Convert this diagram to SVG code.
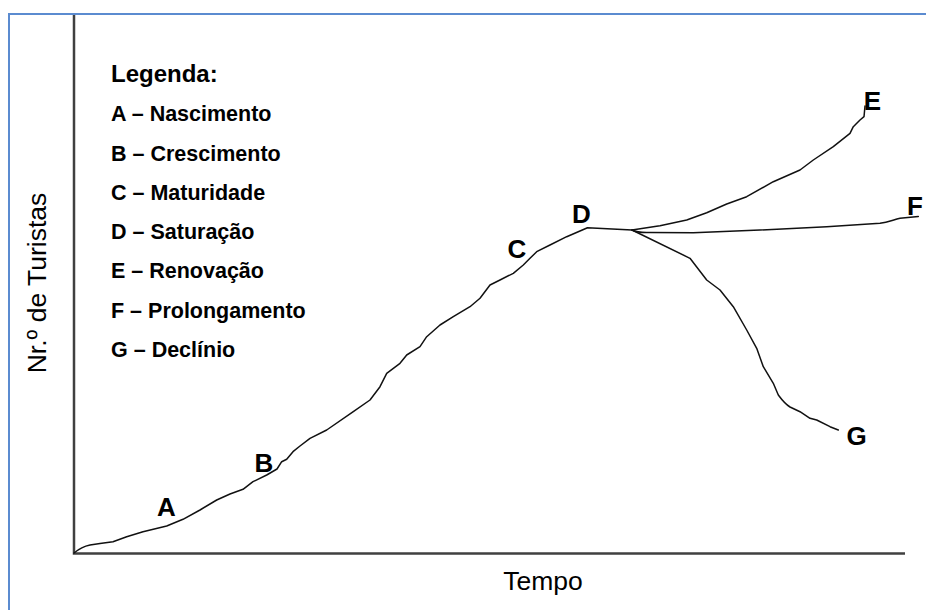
<svg xmlns="http://www.w3.org/2000/svg" width="926" height="610" viewBox="0 0 926 610">
<style>
.frame{stroke:#5B8BD0;stroke-width:2;fill:none}
.axis{stroke:#404040;stroke-width:2.5;fill:none}
.curve{stroke:#111;stroke-width:1.5;fill:none;stroke-linejoin:round;stroke-linecap:round}
.leg{font-family:"Liberation Sans",Arial,sans-serif;font-weight:bold;font-size:21.5px;fill:#000}
.legt{font-family:"Liberation Sans",Arial,sans-serif;font-weight:bold;font-size:24px;fill:#000}
.pt{font-family:"Liberation Sans",Arial,sans-serif;font-weight:bold;font-size:26px;fill:#000;text-anchor:middle}
.ax{font-family:"Liberation Sans",Arial,sans-serif;font-size:26.5px;fill:#000;text-anchor:middle}
</style>
<rect width="926" height="610" fill="#fff"/>
<g id="frame">
<path class="frame" d="M9,610 V14 H926"/>
</g>
<g id="axes">
<path class="axis" d="M74,15 V553.5 H905"/>
<text class="ax" x="543" y="590">Tempo</text>
<text class="ax" transform="translate(46,283) rotate(-90)">Nr.º de Turistas</text>
</g>
<g id="legend">
<text class="legt" x="111" y="82">Legenda:</text>
<text class="leg" x="111" y="121">A – Nascimento</text>
<text class="leg" x="111" y="161">B – Crescimento</text>
<text class="leg" x="111" y="200">C – Maturidade</text>
<text class="leg" x="111" y="239">D – Saturação</text>
<text class="leg" x="111" y="278">E – Renovação</text>
<text class="leg" x="111" y="318">F – Prolongamento</text>
<text class="leg" x="111" y="357">G – Declínio</text>
</g>
<g id="connectors">
<path id="main" class="curve" d="M74,553 C80,548 85,546 90,545 L100,543.5 L113,541.7 L126.7,536.7 L143,531.7 L166.7,526 L183,519.3 L200,510 L216.7,500 L230,494 L243,489.3 L253,481.7 L266.7,475 L277,469 L281.7,461.7 L286.7,459.3 L293,451.7 L300,446 L310,438.3 L326.7,430 L353.3,411.7 L370,400 L380,386.7 L386.7,373.3 L400,363.3 L406.7,355 L420,346.7 L426.7,336.7 L440,325 L453.3,316.7 L470,306.7 L480,298.3 L490,285 L500,280 L513.3,273.3 L523.3,265 L530,258.3 L536.7,251.7 L550,245 L566.7,236.7 L587.5,227.7 L632,230"/>
<path id="branchE" class="curve" d="M632,230 C645,228 652,227 660,225.7 L686.7,220 L706.7,212.7 L726.7,204 L746.7,196.7 L773.3,181.7 L800,170 L813.3,160 L833.3,146.7 L850,133.3 L853.3,126.7 L860,120 L864,116.7 L865,106"/>
<path id="branchF" class="curve" d="M632,230 C638,233 642,232.5 650,232.5 L693.3,232.7 L760,230 L826.7,226.7 L880,223.3 C888,222 893,220 900,218.3 L918.3,216.5"/>
<path id="branchG" class="curve" d="M632,230 L690,258.3 L706.7,280 L720,290 L733.3,306.7 L746.7,330 L756.7,348.3 L763.3,366.7 L773.3,383.3 L778.3,395 C782,400 785,404 790,407 L800,411.7 L810,418.3 L816.7,420 L830,426.7 L838.3,430"/>
</g>
<g id="node-A"><text class="pt" x="166.5" y="516">A</text></g>
<g id="node-B"><text class="pt" x="264" y="471.5">B</text></g>
<g id="node-C"><text class="pt" x="517" y="258">C</text></g>
<g id="node-D"><text class="pt" x="581.5" y="222.5">D</text></g>
<g id="node-E"><text class="pt" x="872.5" y="110">E</text></g>
<g id="node-F"><text class="pt" x="915" y="215">F</text></g>
<g id="node-G"><text class="pt" x="856.5" y="445">G</text></g>
</svg>
